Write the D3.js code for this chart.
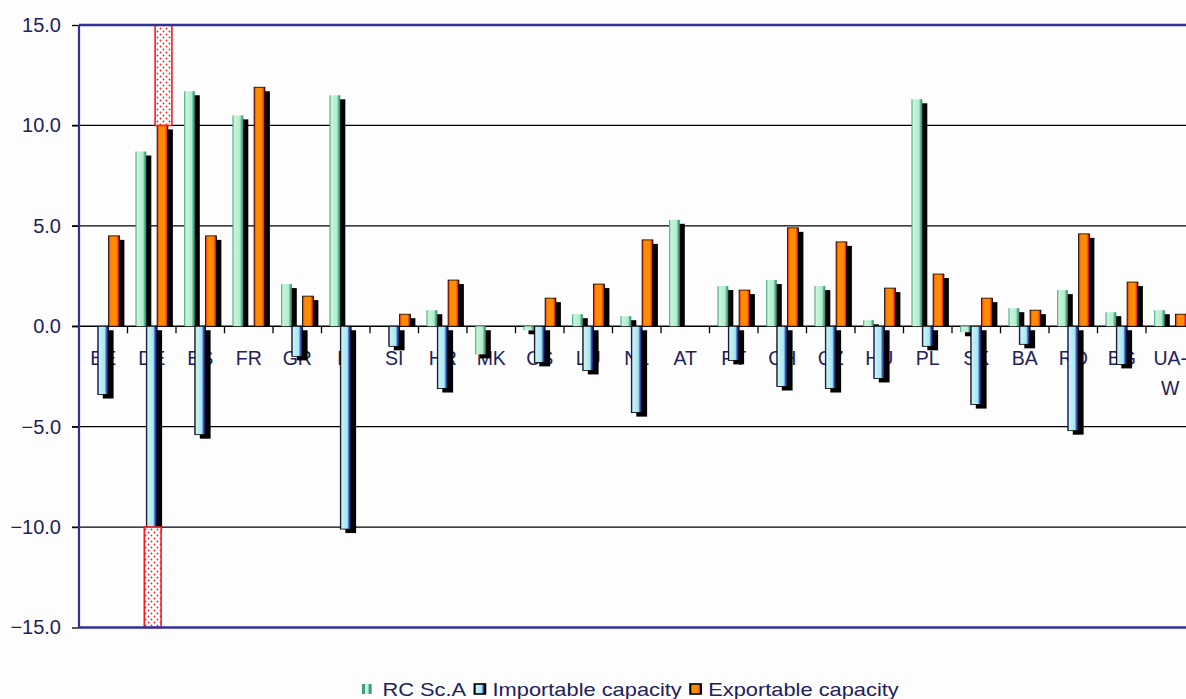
<!DOCTYPE html>
<head>
  <meta charset="utf-8">
  <script src="https://d3js.org/d3.v7.min.js"></script>
  <style>
    body { margin:0; background:#fdfdfd; }
    text { font-family: "Liberation Sans", Arial, sans-serif; fill:#22215a; }
  </style>
</head>
<body>
<script>
var categories = ["BE","DE","ES","FR","GR","IT","SI","HR","MK","CS","LU","NL","AT","PT","CH","CZ","HU","PL","SK","BA","RO","BG","UA-W"];
var rcScA      = [0, 8.7, 11.7, 10.5, 2.1, 11.5, 0, 0.8, -1.4, -0.2, 0.6, 0.5, 5.3, 2.0, 2.3, 2.0, 0.3, 11.3, -0.3, 0.9, 1.8, 0.7, 0.8];
var importable = [-3.4, -10.0, -5.4, 0, -1.5, -10.1, -1.0, -3.1, 0, -1.8, -2.2, -4.3, 0, -1.7, -3.0, -3.1, -2.6, -1.0, -3.9, -0.9, -5.2, -1.9, 0];
var exportable = [4.5, 10.0, 4.5, 11.9, 1.5, 0, 0.6, 2.3, 0, 1.4, 2.1, 4.3, 0, 1.8, 4.9, 4.2, 1.9, 2.6, 1.4, 0.8, 4.6, 2.2, 0.6];
var seriesNames = ["RC Sc.A", "Importable capacity", "Exportable capacity"];
var yTicks = [15, 10, 5, 0, -5, -10, -15];
// off-scale markers (values beyond the axis)
var overflow = [{cat:"DE", s:2, from:10, to:15}, {cat:"DE", s:1, from:-10, to:-15}];

var width = 1186, height = 699;
var svg = d3.select("body").append("svg").attr("width", width).attr("height", height);

var x = d3.scaleBand().domain(categories).range([79, 79 + 48.5 * categories.length]);
var xs = d3.scaleBand().domain(d3.range(3)).range([8, 40.4]);
var y = d3.scaleLinear().domain([-15, 15]).range([627.5, 25]);

var defs = svg.append("defs");
function grad(id, stops) {
  var g = defs.append("linearGradient").attr("id", id).attr("x1", 0).attr("x2", 1).attr("y1", 0).attr("y2", 0);
  stops.forEach(function(s) { g.append("stop").attr("offset", s[0]).attr("stop-color", s[1]); });
}
grad("gGreen", [[0,"#3f9f86"],[0.18,"#c6f6d6"],[0.7,"#b4eccb"],[0.85,"#4fae90"],[1,"#2c8a72"]]);
grad("gImp", [[0,"#10107a"],[0.15,"#c6f2f6"],[0.65,"#a8e6ee"],[0.8,"#3a5ab8"],[1,"#000050"]]);
grad("gExp", [[0,"#e01c00"],[0.2,"#ff8a00"],[0.72,"#ff8c00"],[0.9,"#e82a00"],[1,"#300000"]]);
var pat = defs.append("pattern").attr("id", "dots").attr("width", 6).attr("height", 6).attr("patternUnits", "userSpaceOnUse");
pat.append("rect").attr("width", 6).attr("height", 6).attr("fill", "#fff");
pat.append("circle").attr("cx", 1.5).attr("cy", 1.5).attr("r", 0.9).attr("fill", "#f02020");
pat.append("circle").attr("cx", 4.5).attr("cy", 4.5).attr("r", 0.9).attr("fill", "#f02020");
var fills = ["url(#gGreen)", "url(#gImp)", "url(#gExp)"];
var strokes = ["none", "#000", "#000"];

// gridlines
svg.append("g").selectAll("line").data(yTicks.filter(function(t){ return Math.abs(t) < 15; }))
  .enter().append("line")
  .attr("x1", 72).attr("x2", width).attr("y1", function(d){ return y(d); }).attr("y2", function(d){ return y(d); })
  .attr("stroke", "#000").attr("stroke-width", 1.3);

// y axis
var yAxis = svg.append("g").attr("transform", "translate(79,0)")
  .call(d3.axisLeft(y).tickValues(yTicks).tickSize(7).tickFormat(d3.format(".1f")).tickPadding(11));
yAxis.select(".domain").remove();
yAxis.selectAll("line").attr("stroke", "#000").attr("stroke-width", 1.3);
yAxis.selectAll("text").style("font-size", "20px").attr("fill", "#22215a").style("font-family", "Liberation Sans, Arial, sans-serif");

// category ticks on zero line
svg.append("g").selectAll("line").data(categories.slice(1))
  .enter().append("line")
  .attr("x1", function(d){ return x(d); }).attr("x2", function(d){ return x(d); })
  .attr("y1", y(0)).attr("y2", y(0) + 7).attr("stroke", "#000").attr("stroke-width", 1.3);

// category labels (under the bars)
var lab = svg.append("g").selectAll("text").data(categories).enter().append("text")
  .attr("x", function(d){ return x(d) + x.bandwidth() / 2; })
  .attr("y", y(0) + 39)
  .attr("text-anchor", "middle").style("font-size", "19.5px");
lab.each(function(d) {
  var t = d3.select(this);
  if (d.indexOf("-") > 0) {
    var p = d.split("-");
    t.append("tspan").attr("x", t.attr("x")).text(p[0] + "-");
    t.append("tspan").attr("x", t.attr("x")).attr("dy", 30).text(p[1]);
  } else t.text(d);
});

// bars
var rows = [];
categories.forEach(function(c, i) {
  [rcScA[i], importable[i], exportable[i]].forEach(function(v, s) {
    if (v !== 0) rows.push({cat:c, s:s, v:v});
  });
});
var bx = function(d){ return x(d.cat) + xs(d.s); };
var bw = xs.bandwidth();

svg.append("g").selectAll("rect").data(rows).enter().append("rect")
  .attr("x", function(d){ return bx(d) + 5; })
  .attr("y", function(d){ return d.v > 0 ? y(d.v) + 4 : y(0) + 4; })
  .attr("width", bw)
  .attr("height", function(d){ return d.v > 0 ? y(0) - y(d.v) - 4 : y(d.v) - y(0); })
  .attr("fill", "#000");

svg.append("g").selectAll("rect").data(rows).enter().append("rect")
  .attr("x", bx)
  .attr("y", function(d){ return y(Math.max(0, d.v)); })
  .attr("width", bw)
  .attr("height", function(d){ return Math.abs(y(d.v) - y(0)); })
  .attr("fill", function(d){ return fills[d.s]; })
  .attr("stroke", function(d){ return strokes[d.s]; })
  .attr("stroke-width", 0.8);

// off-scale markers
svg.append("g").selectAll("rect").data(overflow).enter().append("rect")
  .attr("x", function(d){ return x(d.cat) + xs(d.s) - 2; })
  .attr("y", function(d){ return y(Math.max(d.from, d.to)); })
  .attr("width", bw + 6)
  .attr("height", function(d){ return Math.abs(y(d.from) - y(d.to)); })
  .attr("fill", "url(#dots)").attr("stroke", "#ff1a1a").attr("stroke-width", 1.6);

// frame lines
svg.append("line").attr("x1", 79).attr("x2", width).attr("y1", y(15)).attr("y2", y(15)).attr("stroke", "#30309a").attr("stroke-width", 2.5);
svg.append("line").attr("x1", 79).attr("x2", width).attr("y1", y(-15)).attr("y2", y(-15)).attr("stroke", "#30309a").attr("stroke-width", 2.5);
svg.append("line").attr("x1", 79).attr("x2", 79).attr("y1", y(15)).attr("y2", y(-15)).attr("stroke", "#30309a").attr("stroke-width", 2.2);

// legend
var leg = svg.append("g").attr("transform", "translate(362,689) scale(1.2,1)");
var lx = 0;
seriesNames.forEach(function(n, i) {
  if (i === 0) {
    leg.append("rect").attr("x", lx).attr("y", -5).attr("width", 8).attr("height", 10).attr("fill", "#c6f6d6");
    leg.append("rect").attr("x", lx).attr("y", -5).attr("width", 2.5).attr("height", 10).attr("fill", "#3f9f86");
    leg.append("rect").attr("x", lx + 5.5).attr("y", -5).attr("width", 2.5).attr("height", 10).attr("fill", "#3f9f86");
    lx += 17;
  } else {
    leg.append("rect").attr("x", lx).attr("y", -5).attr("width", 9).attr("height", 10)
      .attr("fill", fills[i]).attr("stroke", "#000").attr("stroke-width", 1.6);
    lx += 15;
  }
  var t = leg.append("text").attr("x", lx).attr("y", 7).style("font-size", "18.2px").text(n);
  lx += t.node().getComputedTextLength() + 7;
});
</script>
</body>
